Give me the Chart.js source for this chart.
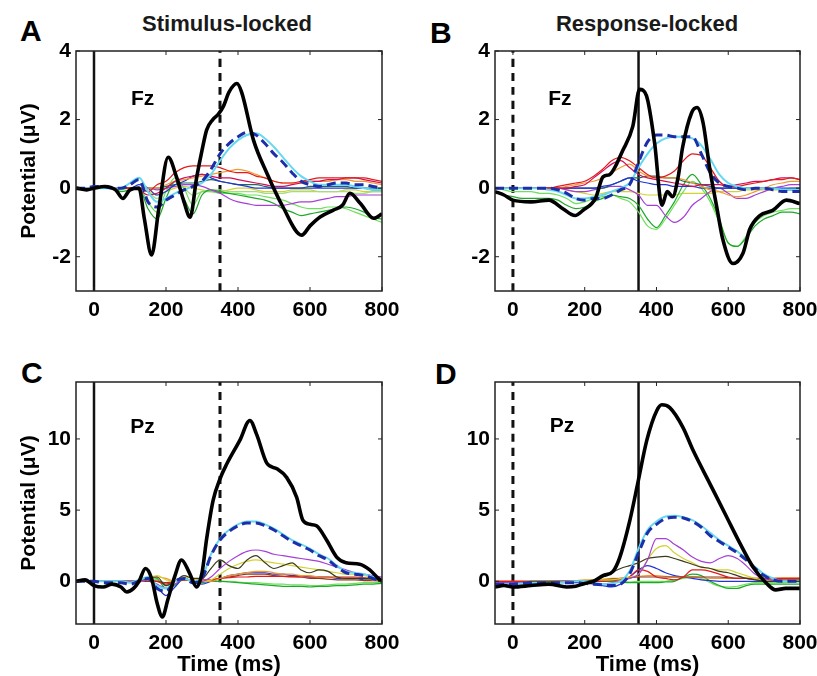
<!DOCTYPE html>
<html>
<head>
<meta charset="utf-8">
<script src="https://cdn.jsdelivr.net/npm/chart.js@4.4.0/dist/chart.umd.min.js"></script>
<style>
  body { margin: 0; background: #fff; width: 817px; height: 676px; position: relative; overflow: hidden;
         font-family: "Liberation Sans", Arial, sans-serif; }
  canvas { position: absolute; }
  .lbl { position: absolute; font-weight: bold; line-height: 1; color: #000; white-space: nowrap; }
  .letter { font-size: 30px; }
  .coltitle { font-size: 22px; width: 300px; text-align: center; color: #1a1a1a; }
</style>
</head>
<body>
<div class="lbl letter" style="left:20px;top:16px">A</div>
<div class="lbl letter" style="left:430px;top:18px">B</div>
<div class="lbl letter" style="left:21px;top:358px">C</div>
<div class="lbl letter" style="left:435px;top:359px">D</div>
<div class="lbl coltitle" style="left:77px;top:13px">Stimulus-locked</div>
<div class="lbl coltitle" style="left:497px;top:13px">Response-locked</div>

<canvas id="panelA" width="410" height="330" style="left:0;top:0"></canvas>
<canvas id="panelB" width="407" height="330" style="left:410px;top:0"></canvas>
<canvas id="panelC" width="410" height="346" style="left:0;top:330px"></canvas>
<canvas id="panelD" width="407" height="346" style="left:410px;top:330px"></canvas>

<script>
// time axis (ms) and tick labels
const times = [-50,-25,0,25,50,75,100,125,150,175,200,225,250,275,300,325,350,375,400,425,450,475,500,525,550,575,600,625,650,675,700,725,750,775,800];
const xTicks = [0, 200, 400, 600, 800];
const fzTicks = [-2, 0, 2, 4];
const pzTicks = [0, 5, 10];
const stimOnset = 0;
const meanRt = 350;

// Fz, stimulus-locked
const fzStimBlackT = [-50,-20,0,30,60,80,100,125,140,160,180,206,230,250,267,285,300,313,330,345,360,375,397,410,443,480,525,577,600,628,665,690,711,740,777,800];
const fzStimBlack = [0,-0.05,0,0.05,-0.05,-0.3,-0.05,0,-0.9,-1.95,-0.6,0.9,0.3,-0.4,-0.85,0.3,1.1,1.7,2.0,2.15,2.4,2.8,3.05,2.8,1.4,0.44,-0.55,-1.37,-1.1,-0.84,-0.64,-0.5,-0.15,-0.45,-0.88,-0.75];
const fzStimMean = [0,0,0.05,0.05,0,0,0.1,0.25,-0.4,-0.55,-0.35,-0.2,-0.05,0.05,0.2,0.55,1.0,1.3,1.5,1.63,1.55,1.3,1.0,0.75,0.45,0.2,0.1,0.05,0.1,0.15,0.15,0.1,0.1,0.05,0];
const fzStimCyan = [0,0,0,0,0,0,0.15,0.3,-0.1,-0.4,-0.3,-0.15,-0.05,0.05,0.15,0.4,0.8,1.15,1.4,1.55,1.6,1.45,1.2,0.9,0.6,0.35,0.2,0.1,0.1,0.1,0.1,0.05,0,-0.05,-0.05];
const fzStimRed = [0,0,0,0,0,0,0,0,-0.1,0.1,0.2,0.45,0.6,0.65,0.65,0.65,0.6,0.5,0.45,0.45,0.35,0.3,0.2,0.15,0.15,0.2,0.25,0.3,0.3,0.3,0.3,0.3,0.3,0.25,0.2];
const fzStimCrimson = [0,0,0,0,0,0,0,-0.05,-0.2,-0.15,0,0.2,0.3,0.35,0.4,0.35,0.3,0.3,0.25,0.2,0.15,0.1,0.05,0.05,0.1,0.15,0.2,0.2,0.25,0.25,0.3,0.3,0.25,0.2,0.15];
const fzStimOrange = [0,0,0,0,0,0,0,0,0,0,0.1,0.2,0.25,0.3,0.35,0.4,0.45,0.5,0.55,0.5,0.4,0.3,0.2,0.15,0.15,0.15,0.2,0.2,0.2,0.25,0.25,0.2,0.2,0.15,0.1];
const fzStimYellow = [0,0,0,0,0,0,0,0,-0.1,-0.2,-0.1,0,0.05,0,-0.05,-0.1,-0.1,-0.05,0,0,-0.05,-0.1,-0.1,-0.1,-0.05,-0.05,-0.05,-0.1,-0.1,-0.1,-0.05,-0.05,-0.1,-0.1,-0.1];
const fzStimGreen = [0,0,0,0,0,-0.1,-0.05,0,-0.6,-0.9,-0.3,0.2,-0.3,-0.75,-0.2,-0.05,-0.1,-0.15,-0.2,-0.25,-0.3,-0.35,-0.45,-0.6,-0.7,-0.8,-0.75,-0.7,-0.65,-0.6,-0.55,-0.6,-0.7,-0.85,-0.9];
const fzStimLime = [0,0,0,0,0,-0.05,0,0,-0.4,-0.7,-0.1,0.3,0,-0.5,-0.1,-0.1,-0.15,-0.15,-0.15,-0.2,-0.2,-0.25,-0.3,-0.35,-0.45,-0.55,-0.6,-0.6,-0.55,-0.55,-0.6,-0.7,-0.8,-0.9,-1.0];
const fzStimPale = [0,0,0,0,0,0,0,0,-0.1,-0.3,-0.1,0.1,0,-0.2,-0.1,-0.05,-0.05,-0.1,-0.1,-0.1,-0.1,-0.15,-0.15,-0.15,-0.1,-0.1,-0.1,-0.1,-0.1,-0.1,-0.1,-0.15,-0.15,-0.1,-0.1];
const fzStimMagenta = [0,0,0,0,0,0,0,0,0,-0.05,0,0.05,0.1,0.1,0.05,-0.05,-0.15,-0.3,-0.4,-0.45,-0.5,-0.5,-0.5,-0.5,-0.45,-0.4,-0.4,-0.35,-0.3,-0.25,-0.25,-0.2,-0.2,-0.2,-0.2];
const fzStimBlue = [0,0,0,0,0,0,0,0.1,0,-0.2,-0.1,0.1,0.2,0.35,0.4,0.3,0.2,0.15,0.1,0.05,0,0,0,0,0,0,0,0,0,0,0,0,0,-0.05,-0.05];
const fzStimTeal = [0,0,0,0,0,0,0,0,0,0,0.05,0.1,0.15,0.15,0.2,0.25,0.2,0.15,0.1,0.1,0.1,0.05,0,0,0,0,0.05,0.05,0.05,0.05,0.05,0,0,0,0];

// Fz, response-locked
const fzRespBlackT = [-50,-25,0,50,100,139,173,195,230,251,270,306,334,353,372,395,415,430,445,460,473,498,513,530,548,568,585,613,641,660,688,724,762,800];
const fzRespBlack = [-0.1,-0.2,-0.35,-0.4,-0.35,-0.6,-0.8,-0.65,-0.3,0.33,0.4,1.1,1.8,2.88,2.7,1.3,-0.5,-0.1,-0.25,0.3,1.2,2.2,2.35,1.9,0.6,-0.55,-1.5,-2.2,-1.9,-1.2,-0.8,-0.65,-0.35,-0.45];
const fzRespMean = [0,0,0,0,0,0,0,-0.05,-0.15,-0.3,-0.35,-0.3,-0.3,-0.2,-0.05,0.1,0.75,1.35,1.55,1.55,1.5,1.5,1.5,1.0,0.45,0.15,0.05,0,-0.05,0,0,-0.05,-0.1,-0.1,-0.1];
const fzRespCyan = [0,0,0,0,0,0,-0.05,-0.1,-0.2,-0.3,-0.3,-0.25,-0.2,-0.1,0,0.15,0.6,1.0,1.3,1.45,1.5,1.5,1.45,1.25,0.85,0.4,0.15,0.05,0,0,0,0,-0.05,-0.05,-0.05];
const fzRespRed = [0,0,0,0,0,0,0,0.05,0.1,0.15,0.2,0.35,0.55,0.8,0.9,0.8,0.6,0.4,0.3,0.35,0.5,0.8,1.0,0.95,0.6,0.2,0.05,0.05,0.1,0.15,0.2,0.25,0.25,0.3,0.25];
const fzRespCrimson = [0,0,0,0,0,0,0,0,0,0.05,0.1,0.3,0.5,0.7,0.8,0.6,0.4,0.3,0.25,0.2,0.15,0.1,0.05,0.1,0.1,0.1,0.05,0.1,0.15,0.2,0.2,0.25,0.3,0.3,0.25];
const fzRespOrange = [0,0,0,0,0,0,0,0,0.05,0.1,0.15,0.2,0.3,0.45,0.6,0.7,0.5,0.35,0.3,0.3,0.3,0.25,0.15,0.05,-0.05,-0.1,-0.2,-0.25,-0.2,-0.1,0,0.1,0.15,0.2,0.2];
const fzRespYellow = [0,0,0,0,0,0,0,0,-0.05,-0.1,-0.15,-0.2,-0.15,-0.1,-0.1,-0.1,-0.15,-0.2,-0.2,-0.2,-0.2,-0.15,-0.15,-0.15,-0.15,-0.1,-0.1,-0.1,-0.05,-0.05,-0.05,-0.05,-0.05,0,0];
const fzRespGreen = [-0.1,-0.2,-0.25,-0.3,-0.3,-0.3,-0.3,-0.35,-0.5,-0.6,-0.55,-0.4,-0.3,-0.2,-0.25,-0.3,-0.5,-0.9,-1.15,-0.8,-0.4,0.1,0.4,0.1,-0.3,-0.9,-1.6,-1.7,-1.45,-1.1,-0.9,-0.8,-0.7,-0.7,-0.75];
const fzRespLime = [0,-0.05,-0.1,-0.1,-0.1,-0.15,-0.15,-0.2,-0.3,-0.45,-0.4,-0.3,-0.25,-0.2,-0.3,-0.4,-0.7,-1.1,-1.2,-0.9,-0.5,-0.1,0.2,0,-0.4,-1.0,-1.6,-1.7,-1.4,-1.0,-0.8,-0.7,-0.65,-0.6,-0.6];
const fzRespMagenta = [0,0,0,0,0,0,0,0,-0.05,-0.1,-0.1,-0.05,0,0.05,0.05,-0.05,-0.2,-0.5,-0.5,-0.8,-1.0,-0.85,-0.5,-0.3,-0.1,0,-0.15,-0.3,-0.3,-0.2,-0.1,0,0.05,0.1,0.1];
const fzRespBlue = [0,0,0,0,0,0,0,0,0,0,0,0,0.05,0.1,0.2,0.3,0.2,0.15,0.1,0.1,0.05,0.05,0.05,0,0,0,0,0,0,0,0,0,0,0,0];
const fzRespTeal = [0,0,0,0,0,0,0,0,0,0,0,0,0,0.1,0.2,0.3,0.3,0.35,0.35,0.3,0.3,0.2,0.15,0.1,0.05,0,0,0,0,0,0,0,-0.05,-0.05,-0.05];

// Pz, stimulus-locked
const pzStimBlackT = [-50,-25,0,25,50,75,91,110,125,143,160,175,190,205,225,243,265,285,300,313,331,350,368,405,433,452,480,508,535,563,580,600,618,646,674,700,738,766,790,800];
const pzStimBlack = [0,0.1,-0.3,-0.4,-0.2,-0.4,-0.75,-0.5,0,0.9,0.2,-1.5,-2.5,-1.3,0.4,1.5,0.6,-0.4,0.6,3.0,5.7,7.2,8.2,9.9,11.3,10.3,8.3,7.9,7.3,5.9,4.3,4.0,3.9,2.9,1.7,1.3,1.2,0.8,0.2,0];
const pzStimMean = [0,0,0,-0.1,-0.1,-0.1,-0.2,0,0.2,-0.5,-0.7,0,0.2,-0.1,0.2,1.8,2.9,3.5,3.9,4.1,4.1,3.9,3.6,3.2,2.8,2.5,2.2,1.8,1.5,1.0,0.6,0.5,0.4,0.2,0];
const pzStimCyan = [0,0,0,0,0,0,-0.1,0.1,0.3,-0.3,-0.5,0,0.2,0,0.3,1.9,3.0,3.6,4.0,4.2,4.2,4.0,3.7,3.3,2.9,2.6,2.3,1.9,1.6,1.1,0.7,0.6,0.5,0.3,0.1];
const pzStimMagenta = [0,0,0,0,0,0,0,0,0.1,-0.2,-0.5,-0.2,0.2,0,0,0.3,0.9,1.4,1.8,2.1,2.2,2.1,1.9,1.8,1.7,1.6,1.5,1.4,1.2,1.0,0.8,0.6,0.5,0.4,0.3];
const pzStimOlive = [0,0,0,0,0,0,0,0,0.2,0.3,-0.3,0,0.4,0.2,0.2,0.9,1.5,1.1,0.9,1.5,1.8,1.3,0.9,1.1,1.3,0.8,0.6,0.8,0.7,0.3,0.2,0.2,0.2,0.15,0.1];
const pzStimYellow = [0,0,0,0,0,0,0,0,0.2,0.4,0.1,0,0.3,0.2,0,0.1,0.5,0.9,1.2,1.4,1.5,1.4,1.3,1.2,1.1,1.0,0.9,0.8,0.7,0.6,0.5,0.5,0.4,0.3,0.2];
const pzStimOrange = [0,0,0,0,0,0,0,0,0.1,0.3,0.2,0,0.3,0.2,0,0,0.2,0.4,0.5,0.6,0.7,0.7,0.6,0.5,0.5,0.4,0.4,0.3,0.3,0.3,0.2,0.2,0.2,0.1,0.1];
const pzStimRed = [0,0,0,0,0,0,0,0,0.1,0,-0.2,0,0.1,0.1,0.1,0.1,0.2,0.25,0.3,0.3,0.35,0.35,0.35,0.35,0.35,0.3,0.3,0.3,0.3,0.3,0.3,0.3,0.25,0.2,0.2];
const pzStimBrown = [0,0,0,0,0,0,0,0,0,0,-0.1,0,0.1,0.1,0,0.1,0.2,0.3,0.4,0.5,0.5,0.5,0.4,0.35,0.3,0.3,0.2,0.2,0.15,0.1,0.1,0.1,0.05,0.05,0];
const pzStimGreen = [0,0,0,0,0,0,0,0,0.3,0.2,-0.5,-0.3,0.2,0,-0.1,0,0,-0.05,-0.1,-0.15,-0.2,-0.25,-0.3,-0.35,-0.35,-0.35,-0.4,-0.35,-0.35,-0.3,-0.3,-0.25,-0.2,-0.2,-0.15];
const pzStimLime = [0,0,0,0,0,0,0,0,0.2,0.1,-0.3,-0.2,0.1,0,0,0,0,0,-0.05,-0.1,-0.1,-0.15,-0.2,-0.2,-0.25,-0.25,-0.3,-0.3,-0.25,-0.2,-0.2,-0.15,-0.1,-0.1,-0.1];
const pzStimBlue = [0,0,0,0,0,0,0,0,0.2,-0.4,-1.0,-0.4,0.2,0,-0.2,0,0.2,0.4,0.5,0.6,0.6,0.6,0.5,0.5,0.4,0.4,0.3,0.3,0.3,0.2,0.2,0.2,0.1,0.1,0];

// Pz, response-locked
const pzRespBlackT = [-50,-25,0,50,100,150,175,200,225,251,279,298,326,348,373,401,415,437,474,502,548,596,632,669,707,732,760,800];
const pzRespBlack = [-0.4,-0.3,-0.4,-0.3,-0.2,-0.4,-0.35,-0.15,0,0.4,0.7,1.7,4.3,6.9,9.9,12.0,12.4,12.2,10.8,9.2,6.9,4.5,2.7,1.0,-0.15,-0.6,-0.5,-0.5];
const pzRespMean = [-0.2,-0.2,-0.2,-0.15,-0.1,-0.1,-0.1,-0.1,-0.1,-0.1,-0.15,-0.2,-0.25,-0.3,-0.2,0.5,2.0,3.4,4.0,4.4,4.5,4.45,4.2,3.8,3.2,2.8,2.4,2.0,1.5,0.9,0.4,0.1,0,0,0];
const pzRespCyan = [-0.2,-0.2,-0.2,-0.15,-0.1,-0.1,-0.1,-0.1,-0.05,0,0,-0.1,-0.2,-0.15,0,0.7,2.3,3.6,4.2,4.55,4.6,4.5,4.3,3.9,3.4,2.9,2.5,2.1,1.6,1.0,0.5,0.2,0,0,0];
const pzRespMagenta = [-0.1,-0.1,-0.1,-0.1,-0.1,-0.1,-0.1,-0.05,0,0,-0.05,-0.1,-0.2,-0.1,0,0.2,0.5,1.5,3.0,3.0,2.6,2.2,1.7,1.4,1.3,1.6,1.8,1.6,1.1,0.5,0.2,0.05,0,0,0];
const pzRespYellow = [-0.1,-0.1,-0.1,-0.1,0,0,0,0,0,0,0.05,0.1,0.1,0.1,0.2,0.3,0.5,1.5,2.3,2.5,2.0,1.6,1.3,1.0,0.9,0.8,0.8,0.6,0.4,0.2,0.1,0.05,0,0,0];
const pzRespOlive = [-0.1,-0.1,-0.1,-0.1,0,0,0,0,0,0,0,0.1,0.3,0.6,0.9,1.1,1.3,1.6,1.7,1.75,1.6,1.4,1.2,1.0,0.9,0.7,0.6,0.4,0.2,0.1,0,0,0,0,0];
const pzRespRed = [0,0,0,0,0,0,0,0,0,0,0,0,0,0.05,0.1,0.3,0.8,0.7,0.3,0.2,0.1,0.3,0.8,0.8,0.7,0.5,0.3,0.2,0.2,0.2,0.2,0.2,0.2,0.2,0.2];
const pzRespBrown = [0,0,0,0,0,0,0,0,0,0,0,0.05,0.1,0.15,0.2,0.25,0.3,0.3,0.3,0.3,0.3,0.3,0.3,0.3,0.3,0.3,0.25,0.2,0.2,0.15,0.15,0.1,0.1,0.1,0.1];
const pzRespGreen = [-0.1,-0.1,-0.1,-0.1,-0.1,-0.1,-0.05,0,0,0,0,0,0,0,-0.05,-0.1,-0.1,-0.1,-0.1,-0.05,0,0.3,0.5,0.4,0,-0.3,-0.5,-0.5,-0.3,-0.2,-0.2,-0.2,-0.2,-0.2,-0.2];
const pzRespLime = [-0.1,-0.1,-0.1,-0.1,-0.1,-0.05,0,0,0,0,0,0,0,0,0,-0.05,0,0,0,0,0.1,0.2,0.3,0.2,-0.1,-0.35,-0.4,-0.35,-0.2,-0.1,-0.1,-0.1,-0.1,-0.05,-0.05];
const pzRespOrange = [0,0,0,0,0,0,0,0,0,0.05,0.1,0.1,0.15,0.2,0.2,0.3,0.35,0.4,0.4,0.35,0.3,0.3,0.3,0.25,0.2,0.2,0.2,0.2,0.2,0.2,0.2,0.2,0.25,0.25,0.25];
const pzRespBlue = [-0.2,-0.2,-0.2,-0.15,-0.15,-0.1,-0.1,-0.1,-0.1,-0.1,-0.1,-0.2,-0.3,-0.4,-0.2,0.3,0.8,1.1,0.9,0.6,0.4,0.3,0.2,0.1,0.05,0,0,0,0,0,0,0,0,0,0];

const colors = {
  red: '#e41a1c', crimson: '#d0105a', orange: '#f29a30', yellow: '#d2d234',
  green: '#1fa82a', lime: '#6ee05c', pale: '#a4dc84', magenta: '#a63fd6',
  blue: '#2234d8', teal: '#1d6b5b', cyan: '#66d8f2', brown: '#8b3a1a',
  olive: '#3d3a1a', mean: '#1c2fa8'
};

const tickFont = { family: '"Liberation Sans", Arial, sans-serif', size: 21, weight: 'bold' };

const pts = (t, v) => t.map((x, i) => ({ x, y: v[i] }));

function thinLine(values, color) {
  return { data: pts(times, values), borderColor: color, borderWidth: 1.2 };
}

// box around the axes with inward ticks on all four sides, plus the electrode label
const frame = {
  id: 'frame',
  afterDraw(chart, args, opts) {
    const { ctx, chartArea: a, scales: { x, y } } = chart;
    ctx.save();
    ctx.strokeStyle = '#222';
    ctx.lineWidth = 1.5;
    ctx.strokeRect(a.left, a.top, a.right - a.left, a.bottom - a.top);
    ctx.lineWidth = 1;
    ctx.beginPath();
    x.ticks.forEach(t => {
      const px = x.getPixelForValue(t.value);
      ctx.moveTo(px, a.bottom); ctx.lineTo(px, a.bottom - 4);
      ctx.moveTo(px, a.top); ctx.lineTo(px, a.top + 4);
    });
    y.ticks.forEach(t => {
      const py = y.getPixelForValue(t.value);
      ctx.moveTo(a.left, py); ctx.lineTo(a.left + 4, py);
      ctx.moveTo(a.right, py); ctx.lineTo(a.right - 4, py);
    });
    ctx.stroke();
    ctx.fillStyle = '#000';
    ctx.font = 'bold 21px "Liberation Sans", Arial, sans-serif';
    ctx.textAlign = 'center';
    ctx.textBaseline = 'middle';
    ctx.fillText(opts.text, x.getPixelForValue(opts.at[0]), y.getPixelForValue(opts.at[1]));
    ctx.restore();
  }
};

function drawPanel(p) {
  const marker = (t, dashed) => ({
    data: [{ x: t, y: p.yMin }, { x: t, y: p.yMax }],
    borderColor: '#111',
    borderWidth: dashed ? 3 : 2.5,
    borderDash: dashed ? [8, 6] : []
  });
  // first dataset is drawn on top
  const datasets = [
    { data: pts(p.blackT, p.black), borderColor: '#000', borderWidth: 3.6 },
    { data: pts(times, p.mean), borderColor: colors.mean, borderWidth: 3, borderDash: [9, 5] },
    { data: pts(times, p.cyan), borderColor: colors.cyan, borderWidth: 2 },
    ...p.thin.map(([v, c]) => thinLine(v, colors[c])),
    marker(stimOnset, !p.stimLocked),
    marker(meanRt, p.stimLocked)
  ];
  new Chart(document.getElementById(p.id), {
    type: 'line',
    data: { datasets },
    plugins: [frame],
    options: {
      responsive: false,
      animation: false,
      layout: { padding: { left: 0, top: p.padTop, right: p.padRight, bottom: 0 } },
      elements: { point: { radius: 0 }, line: { cubicInterpolationMode: 'monotone', fill: false } },
      plugins: {
        legend: { display: false },
        tooltip: { enabled: false },
        frame: { text: p.label, at: p.labelAt }
      },
      scales: {
        x: {
          type: 'linear', min: -50, max: 800,
          grid: { display: false, drawTicks: false },
          border: { display: false },
          ticks: { font: tickFont, color: '#000', padding: 7, maxRotation: 0, autoSkip: false },
          afterBuildTicks: s => { s.ticks = xTicks.map(v => ({ value: v })); },
          afterFit: s => { s.height = p.xHeight; s.paddingLeft = 0; s.paddingRight = 0; },
          title: {
            display: p.showTime, text: 'Time (ms)', color: '#000',
            font: { family: tickFont.family, size: 22, weight: 'bold', lineHeight: 1 },
            padding: { top: 0, bottom: 0 }
          }
        },
        y: {
          type: 'linear', min: p.yMin, max: p.yMax,
          grid: { display: false, drawTicks: false },
          border: { display: false },
          ticks: { font: tickFont, color: '#000', padding: 5 },
          afterBuildTicks: s => { s.ticks = p.yTicks.map(v => ({ value: v })); },
          afterFit: s => { s.width = p.yWidth; },
          title: {
            display: p.showPotential, text: 'Potential (μV)', color: '#000',
            font: { family: tickFont.family, size: 21, weight: 'bold', lineHeight: 1.2 },
            padding: { top: 17, bottom: 0 }
          }
        }
      }
    }
  });
}

drawPanel({
  id: 'panelA', stimLocked: true, yMin: -3, yMax: 4, yTicks: fzTicks,
  yWidth: 76, padTop: 51, padRight: 28, xHeight: 39, showPotential: true, showTime: false,
  label: 'Fz', labelAt: [135, 2.6],
  blackT: fzStimBlackT, black: fzStimBlack, mean: fzStimMean, cyan: fzStimCyan,
  thin: [[fzStimRed, 'red'], [fzStimCrimson, 'crimson'], [fzStimOrange, 'orange'], [fzStimBlue, 'blue'],
         [fzStimTeal, 'teal'], [fzStimMagenta, 'magenta'], [fzStimGreen, 'green'], [fzStimLime, 'lime'],
         [fzStimPale, 'pale'], [fzStimYellow, 'yellow']]
});

drawPanel({
  id: 'panelB', stimLocked: false, yMin: -3, yMax: 4, yTicks: fzTicks,
  yWidth: 85, padTop: 51, padRight: 17, xHeight: 39, showPotential: false, showTime: false,
  label: 'Fz', labelAt: [131, 2.6],
  blackT: fzRespBlackT, black: fzRespBlack, mean: fzRespMean, cyan: fzRespCyan,
  thin: [[fzRespRed, 'red'], [fzRespCrimson, 'crimson'], [fzRespOrange, 'orange'], [fzRespBlue, 'blue'],
         [fzRespTeal, 'teal'], [fzRespMagenta, 'magenta'], [fzRespGreen, 'green'], [fzRespLime, 'lime'],
         [fzRespYellow, 'yellow']]
});

drawPanel({
  id: 'panelC', stimLocked: true, yMin: -3, yMax: 14, yTicks: pzTicks,
  yWidth: 76, padTop: 52, padRight: 28, xHeight: 52, showPotential: true, showTime: true,
  label: 'Pz', labelAt: [135, 10.8],
  blackT: pzStimBlackT, black: pzStimBlack, mean: pzStimMean, cyan: pzStimCyan,
  thin: [[pzStimMagenta, 'magenta'], [pzStimOlive, 'olive'], [pzStimYellow, 'yellow'], [pzStimOrange, 'orange'],
         [pzStimRed, 'red'], [pzStimBrown, 'brown'], [pzStimBlue, 'blue'], [pzStimGreen, 'green'],
         [pzStimLime, 'lime']]
});

drawPanel({
  id: 'panelD', stimLocked: false, yMin: -3, yMax: 14, yTicks: pzTicks,
  yWidth: 85, padTop: 52, padRight: 17, xHeight: 52, showPotential: false, showTime: true,
  label: 'Pz', labelAt: [137, 10.9],
  blackT: pzRespBlackT, black: pzRespBlack, mean: pzRespMean, cyan: pzRespCyan,
  thin: [[pzRespMagenta, 'magenta'], [pzRespOlive, 'olive'], [pzRespYellow, 'yellow'], [pzRespRed, 'red'],
         [pzRespBrown, 'brown'], [pzRespOrange, 'orange'], [pzRespBlue, 'blue'], [pzRespGreen, 'green'],
         [pzRespLime, 'lime']]
});
</script>
</body>
</html>
